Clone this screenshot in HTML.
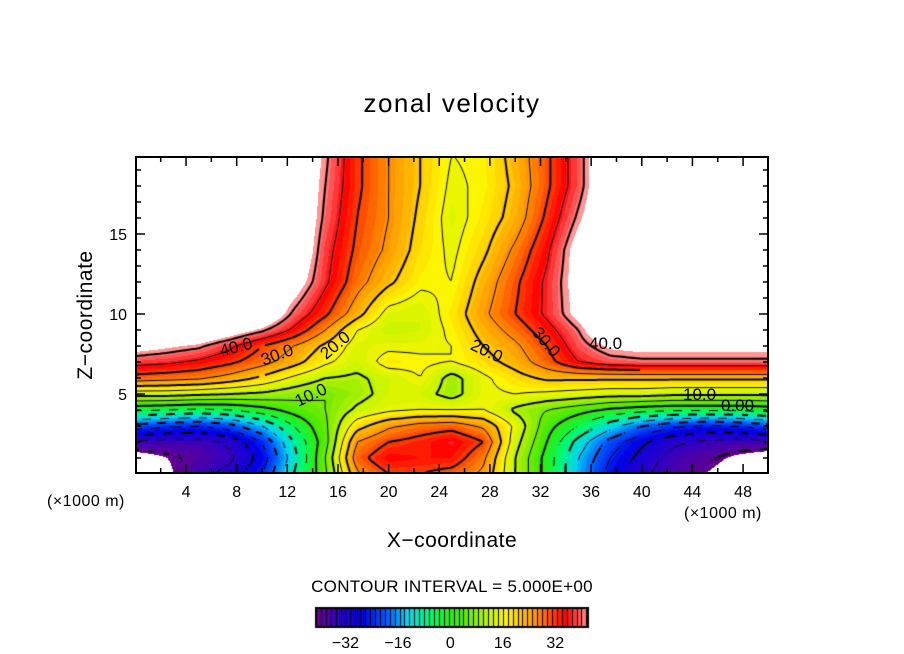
<!DOCTYPE html>
<html><head><meta charset="utf-8">
<style>
html,body{margin:0;padding:0;background:#fff;}
#wrap{position:relative;width:904px;height:654px;overflow:hidden;font-family:"Liberation Sans",sans-serif;}
canvas,svg{position:absolute;left:0;top:0;}
</style></head>
<body>
<div id="wrap">
<canvas id="field" width="904" height="654"></canvas>
<svg id="ov" width="904" height="654" style="font-family:'Liberation Sans',sans-serif">
  <text x="452" y="112" text-anchor="middle" font-size="26" letter-spacing="1.5">zonal velocity</text>
  <text transform="translate(92,315) rotate(-90)" text-anchor="middle" font-size="21" letter-spacing="0.5">Z−coordinate</text>
  <text x="452" y="547" text-anchor="middle" font-size="21" letter-spacing="0.5">X−coordinate</text>
  <text x="47" y="506" font-size="16" letter-spacing="0.5">(×1000 m)</text>
  <text x="684" y="518" font-size="16" letter-spacing="0.5">(×1000 m)</text>
  <text x="452" y="592" text-anchor="middle" font-size="17" letter-spacing="0.3">CONTOUR INTERVAL = 5.000E+00</text>
  <g font-size="17">
    <text x="219" y="352" transform="rotate(-15 238 345)">40.0</text>
    <text x="260" y="360" transform="rotate(-20 278 353)">30.0</text>
    <text x="318" y="350" transform="rotate(-40 336 344)">20.0</text>
    <text x="294" y="400" transform="rotate(-25 312 394)">10.0</text>
    <text x="470" y="358" transform="rotate(25 490 352)">20.0</text>
    <text x="528" y="350" transform="rotate(50 548 345)">30.0</text>
    <text x="589" y="349">40.0</text>
    <text x="683" y="400">10.0</text>
    <text x="721" y="411">0.00</text>
  </g>
  <g id="axes"></g>
</svg>
</div>
<script>
// ---- data: zonal velocity ----
const xs = [0,2.5,5,7.5,10,12.5,15,17.5,20,22.5,25,27.5,30,32.5,35,37.5,40,42.5,45,47.5,50];
const zs = [0,1,2,3,4,5,6,7,8,9,10,12,14,16,18,20];
const u00 = [-45,-42,-37,-33,-25,-10,4,24,30,30,28,24,10,-2,-16,-27,-34,-38,-41,-44,-46];
const u01 = [-44,-41,-39,-36,-28,-12,5,28,34,33,33,26,10,-2,-15,-25,-32,-37,-39,-42,-44];
const u02 = [-36,-37,-37,-34,-25,-10,3,25,30,32,35,30,12,0,-12,-22,-29,-34,-36,-37,-37];
const u03 = [-22,-24,-25,-22,-15,-5,4,18,24,27,28,24,14,2,-5,-13,-20,-24,-26,-25,-22];
const u04 = [-4,-5,-6,-5,-2,2,5,11,14,15,15,15,9,5,2,-1,-3,-4,-4,-4,-3];
const u05 = [12,12,11,10,9,7,5,8,12,12,8,14,15,14,13,12,12,11,11,11,11];
const u06 = [28,27,26,23,19,14,10,9,12,15,8,14,18,21,21,21,21,21,21,21,21];
const u07 = [37,36,34,31,27,22,16,12,17,16,15,18,22,28,35,38,39,39,39,39,39];
const u08 = [45,43,41,36,30,25,19,13,14,14,15,20,24,30,38,43,44,44,44,44,44];
const u09 = [50,50,50,46,41,34,25,15,11,12,16,22,27,33,40,50,50,50,50,50,50];
const u10 = [50,50,50,50,50,39,31,22,13,12,17,24,30,36,44,50,50,50,50,50,50];
const u12 = [50,50,50,50,50,46,36,27,21,16,15,22,29,36,45,50,50,50,50,50,50];
const u14 = [50,50,50,50,50,50,37,29,24,18,14,19,26,34,45,50,50,50,50,50,50];
const u16 = [50,50,50,50,50,50,39,30,25,19,13,17,22,31,41,50,50,50,50,50,50];
const u18 = [50,50,50,50,50,50,40,31,25,20,14,16,21,29,38,50,50,50,50,50,50];
const u20 = [50,50,50,50,50,50,41,31,25,20,15,16,22,29,38,50,50,50,50,50,50];
const rows = [u00,u01,u02,u03,u04,u05,u06,u07,u08,u09,u10,u12,u14,u16,u18,u20];
const xTicks = [4,8,12,16,20,24,28,32,36,40,44,48];
const zTicks = [5,10,15];
const cbTicks = [-32,-16,0,16,32];
const levels = [-40,-35,-30,-25,-20,-15,-10,-5,0,5,10,15,20,25,30,35,40];
const vmin = -41, vmax = 42;

// ---- axes functions ----
const PX0=136, PX1=768, PY0=157, PY1=473;
const X = v => 135.4 + v*12.66;
const Z = v => 474 - v*16;
const invX = p => (p-135.4)/12.66;
const invZ = p => (474-p)/16;

function seg(arr, v){
  let i=0; while(i<arr.length-2 && v>arr[i+1]) i++;
  let t=(v-arr[i])/(arr[i+1]-arr[i]); t=Math.max(0,Math.min(1,t));
  return [i,t];
}
function field(x,z){
  const [i,tx]=seg(xs,x), [j,tz]=seg(zs,z);
  const a=rows[j][i],b=rows[j][i+1],c=rows[j+1][i],d=rows[j+1][i+1];
  return (a*(1-tx)+b*tx)*(1-tz)+(c*(1-tx)+d*tx)*tz;
}
const stops=[[-41,100,0,140],[-35,45,0,200],[-28,0,0,230],[-20,0,100,255],[-14,0,215,240],[-7,0,250,110],[0,50,235,0],[6,130,235,0],[11,200,245,0],[16,255,245,0],[20,255,200,0],[25,255,145,0],[30,255,65,0],[34,255,0,0],[38,255,80,80],[42,255,165,165]];
function cmap(v){
  v=Math.floor(v/1.5)*1.5+0.75;
  if(v<=stops[0][0]) return stops[0].slice(1);
  for(let k=0;k<stops.length-1;k++){
    const s=stops[k],e=stops[k+1];
    if(v<=e[0]){const t=(v-s[0])/(e[0]-s[0]);return [0,1,2].map(m=>Math.round(s[m+1]+(e[m+1]-s[m+1])*t));}
  }
  return stops[stops.length-1].slice(1);
}

const cv=document.getElementById('field'), ctx=cv.getContext('2d');
const W=PX1-PX0, H=PY1-PY0;
const img=ctx.createImageData(W,H);
for(let py=0;py<H;py++){for(let px=0;px<W;px++){
  const v=field(invX(PX0+px+0.5),invZ(PY0+py+0.5));
  let c=[255,255,255];
  if(v>=vmin && v<=vmax) c=cmap(v);
  const o=(py*W+px)*4; img.data[o]=c[0];img.data[o+1]=c[1];img.data[o+2]=c[2];img.data[o+3]=255;
}}
ctx.putImageData(img,PX0,PY0);

// contour lines (marching squares)
const S=3, nx=Math.ceil(W/S), ny=Math.ceil(H/S);
const G=[];
for(let j=0;j<=ny;j++){G.push([]);for(let i=0;i<=nx;i++){G[j].push(field(invX(PX0+Math.min(i*S,W)),invZ(PY0+Math.min(j*S,H))));}}
ctx.save();ctx.beginPath();ctx.rect(PX0,PY0,W,H);ctx.clip();
levels.forEach(L=>{
  ctx.beginPath();
  for(let j=0;j<ny;j++)for(let i=0;i<nx;i++){
    const x0=PX0+i*S,y0=PY0+j*S;
    const a=G[j][i],b=G[j][i+1],c=G[j+1][i+1],d=G[j+1][i];
    const pts=[];
    if((a-L)*(b-L)<0) pts.push([x0+S*(L-a)/(b-a),y0]);
    if((b-L)*(c-L)<0) pts.push([x0+S,y0+S*(L-b)/(c-b)]);
    if((c-L)*(d-L)<0) pts.push([x0+S*(L-d)/(c-d),y0+S]);
    if((d-L)*(a-L)<0) pts.push([x0,y0+S*(L-a)/(d-a)]);
    if(L<0 && Math.floor((x0+y0)/9)%2===1) continue;
    for(let k=0;k+1<pts.length;k+=2){ctx.moveTo(pts[k][0],pts[k][1]);ctx.lineTo(pts[k+1][0],pts[k+1][1]);}
  }
  ctx.lineWidth=(L%10===0)?2:1; ctx.strokeStyle='#000'; ctx.stroke();
});
ctx.restore();

// colorbar
const CB0=316, CB1=588, CBy=608, CBh=19;
const CBX = v => CB0 + (v-vmin)/(vmax-vmin)*(CB1-CB0);
ctx.save();ctx.beginPath();ctx.rect(CB0,CBy,CB1-CB0,CBh);ctx.clip();
for(let v=vmin; v<vmax; v+=1.5){
  const c=cmap(v+0.1);
  ctx.fillStyle='rgb('+c.join(',')+')';
  ctx.fillRect(CBX(v),CBy,CBX(v+1.5)-CBX(v)+0.5,CBh);
  ctx.fillStyle='#000';ctx.fillRect(Math.round(CBX(v)),CBy,1,CBh);
}
ctx.restore();
ctx.lineWidth=2;ctx.strokeStyle='#000';ctx.strokeRect(CB0,CBy,CB1-CB0,CBh);

// axes
const NS='http://www.w3.org/2000/svg';
const ax=document.getElementById('axes');
function mk(tag,attrs){const e=document.createElementNS(NS,tag);for(const k in attrs)e.setAttribute(k,attrs[k]);ax.appendChild(e);return e;}
const frame=mk('rect',{x:PX0,y:PY0,width:W,height:H,fill:'none',stroke:'#000','stroke-width':2});


for(let v=2;v<50;v+=2){
  const len=(v%4===0)?9:5, x=X(v);
  const t1=mk('line',{x1:x,y1:PY1,x2:x,y2:PY1-len,stroke:'#000','stroke-width':1.5});
  
  
  const t2=mk('line',{x1:x,y1:PY0,x2:x,y2:PY0+len,stroke:'#000','stroke-width':1.5});
  
  
}
xTicks.forEach(v=>{
  const t=mk('text',{x:X(v),y:497,'text-anchor':'middle','font-size':16});
  t.textContent=v;
  
  
});
for(let v=1;v<20;v++){
  const len=(v%5===0)?9:5, y=Z(v);
  if(y<PY0) continue;
  const t1=mk('line',{x1:PX0,y1:y,x2:PX0+len,y2:y,stroke:'#000','stroke-width':1.5});
  
  
  const t2=mk('line',{x1:PX1,y1:y,x2:PX1-len,y2:y,stroke:'#000','stroke-width':1.5});
  
  
}
zTicks.forEach(v=>{
  const t=mk('text',{x:127,y:Z(v)+6,'text-anchor':'end','font-size':16});
  t.textContent=v;
  
  
});
cbTicks.forEach(v=>{
  const t=mk('text',{x:CBX(v),y:648,'text-anchor':'middle','font-size':16});
  t.textContent=(v<0?'−':'')+Math.abs(v);
  
  
});
</script>
</body></html>
